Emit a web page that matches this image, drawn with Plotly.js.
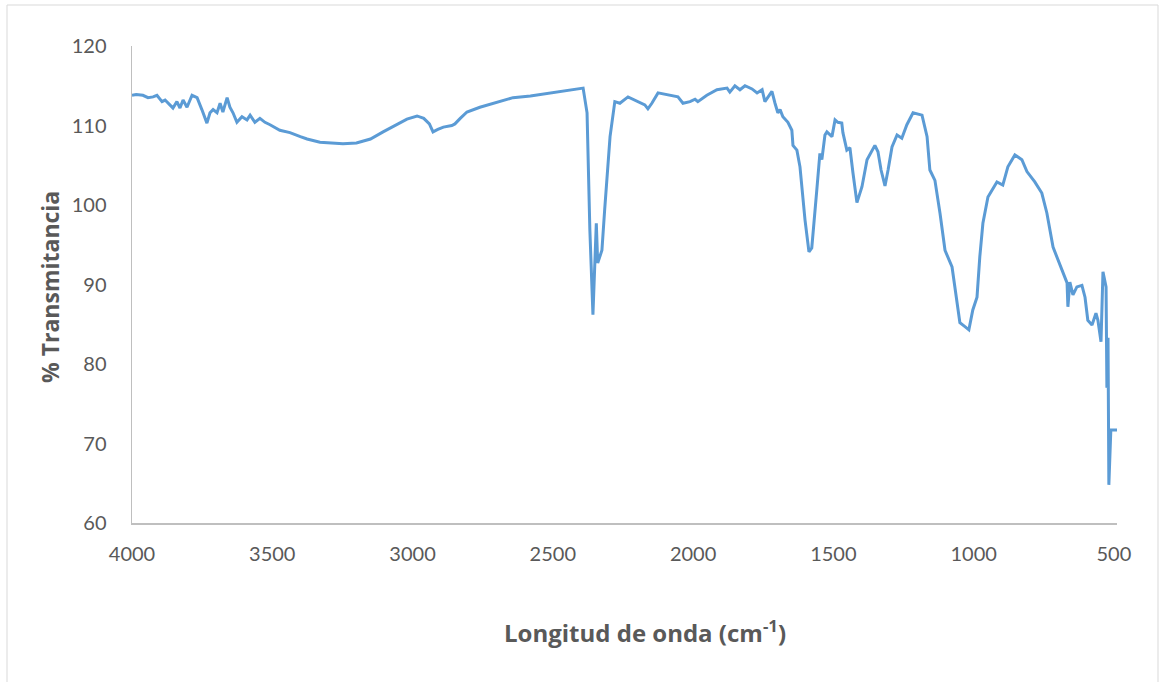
<!DOCTYPE html>
<html>
<head>
<meta charset="utf-8">
<script src="https://cdn.plot.ly/plotly-3.0.1.min.js"></script>
<style>
html,body{margin:0;padding:0;background:#fff;}
#chart{width:1159px;height:682px;}
</style>
</head>
<body>
<div id="chart"></div>
<script>
// Wavenumber (cm^-1)
const wavenumber = [
4000,3985,3961,3943,3925,3911,3893,3882,3865,3854,3840,3829,3818,3804,3786,3768,3751,3733,3722,3711,
3697,3686,3676,3661,3651,3640,3626,3608,3590,3579,3562,3544,3526,3508,3473,3437,3400,3376,3330,3290,
3248,3200,3150,3105,3060,3020,2984,2960,2940,2927,2910,2890,2860,2849,2830,2806,2760,2700,2642,2580,
2521,2460,2392,2378,2368,2357,2352,2345,2340,2325,2315,2307,2296,2279,2261,2232,2200,2172,2161,2147,
2125,2082,2054,2036,2011,1993,1983,1951,1915,1879,1869,1851,1833,1815,1790,1772,1754,1744,1733,1719,
1708,1698,1690,1680,1662,1648,1644,1630,1619,1601,1587,1577,1559,1548,1541,1530,1523,1505,1494,1484,
1470,1466,1452,1441,1430,1416,1398,1380,1352,1341,1330,1316,1305,1291,1273,1256,1238,1216,1184,1166,
1156,1138,1120,1102,1077,1060,1049,1031,1017,1003,988,978,967,949,917,896,878,853,828,810,
782,757,739,717,700,682,667,664,657,646,632,614,603,593,578,564,557,546,539,528,
525,521,518,511,489
];
// % Transmitancia
const transmittance = [
113.8,113.9,113.8,113.5,113.6,113.8,113.0,113.2,112.6,112.2,113.0,112.2,113.2,112.3,113.8,113.5,112.0,110.3,111.6,112.0,
111.6,112.8,111.7,113.5,112.3,111.6,110.4,111.1,110.7,111.3,110.4,110.9,110.4,110.1,109.4,109.1,108.6,108.3,107.9,107.8,
107.7,107.8,108.3,109.2,110.1,110.8,111.2,110.9,110.2,109.2,109.5,109.8,110.0,110.2,110.9,111.7,112.3,112.9,113.5,113.7,
114.0,114.3,114.7,111.6,96.9,86.2,90.5,97.7,92.7,94.3,99.5,103.1,108.6,113.0,112.8,113.6,113.1,112.6,112.1,112.8,
114.1,113.8,113.6,112.8,113.0,113.3,113.0,113.8,114.5,114.7,114.2,115.0,114.5,115.0,114.6,114.1,114.5,113.0,113.6,114.3,
112.8,111.6,112.0,111.1,110.4,109.4,107.5,106.9,104.8,98.1,94.1,94.6,101.9,106.5,105.7,108.8,109.2,108.6,110.7,110.4,
110.3,109.1,106.9,107.2,104.0,100.3,102.3,105.7,107.5,106.7,104.4,102.4,104.4,107.3,108.8,108.4,110.1,111.6,111.3,108.6,
104.4,103.1,99.0,94.3,92.2,87.7,85.2,84.7,84.3,86.8,88.4,93.5,97.7,101.0,102.9,102.5,104.8,106.3,105.7,104.2,
102.9,101.5,99.0,94.7,93.1,91.4,90.2,87.2,90.3,88.7,89.7,89.9,88.4,85.5,84.9,86.4,85.5,82.8,91.6,89.7,
77.0,83.3,64.8,71.7,71.7
];
const xTicks = [4000,3500,3000,2500,2000,1500,1000,500];
const yTicks = [60,70,80,90,100,110,120];

const textColor = '#595959';
const fontFam = 'Lato, "Open Sans", sans-serif';
const titleFam = '"Open Sans", Lato, sans-serif';

const trace = {
  x: wavenumber, y: transmittance, type: 'scatter', mode: 'lines',
  line: {color: '#5B9BD5', width: 3}, hoverinfo: 'x+y'
};

const W = 1159, H = 682, L = 132, R = 42, T = 46, B = 159;
const pw = W - L - R, ph = H - T - B;
const px = v => (v - L) / pw;
const py = v => (H - B - v) / ph;

const layout = {
  width: W, height: H,
  margin: {l: L, r: R, t: T, b: B, pad: 0},
  paper_bgcolor: '#ffffff', plot_bgcolor: '#ffffff',
  showlegend: false,
  font: {family: fontFam, color: textColor, size: 20},
  xaxis: {
    range: [4000, 489], tickvals: xTicks, ticktext: xTicks.map(String),
    showgrid: false, zeroline: false, showline: true, linecolor: '#BFBFBF', linewidth: 1.5,
    ticks: '', ticklabelstandoff: 12, tickfont: {family: fontFam, color: textColor, size: 20}
  },
  yaxis: {
    range: [60, 120], tickvals: yTicks, ticktext: yTicks.map(String),
    showgrid: false, zeroline: false, showline: true, linecolor: '#BFBFBF', linewidth: 1.5,
    ticks: '', ticklabelstandoff: 20, tickfont: {family: fontFam, color: textColor, size: 20}
  },
  shapes: [{
    type: 'rect', xref: 'paper', yref: 'paper',
    x0: px(7), x1: px(1158), y0: py(700), y1: py(5),
    line: {color: '#D9D9D9', width: 1}, fillcolor: 'rgba(0,0,0,0)', layer: 'below'
  }],
  annotations: [
    {text: 'Longitud de onda (cm<sup>-1</sup>)', xref: 'paper', yref: 'paper',
     x: px(645), y: py(632), xanchor: 'center', yanchor: 'middle', showarrow: false,
     font: {family: titleFam, size: 24, color: textColor, weight: 'bold'}},
    {text: '% Transmitancia', xref: 'paper', yref: 'paper', textangle: -90,
     x: px(50), y: py(287), xanchor: 'center', yanchor: 'middle', showarrow: false,
     font: {family: titleFam, size: 23, color: textColor, weight: 'bold'}}
  ]
};

Plotly.newPlot('chart', [trace], layout, {displayModeBar: false, staticPlot: true});
</script>
</body>
</html>
